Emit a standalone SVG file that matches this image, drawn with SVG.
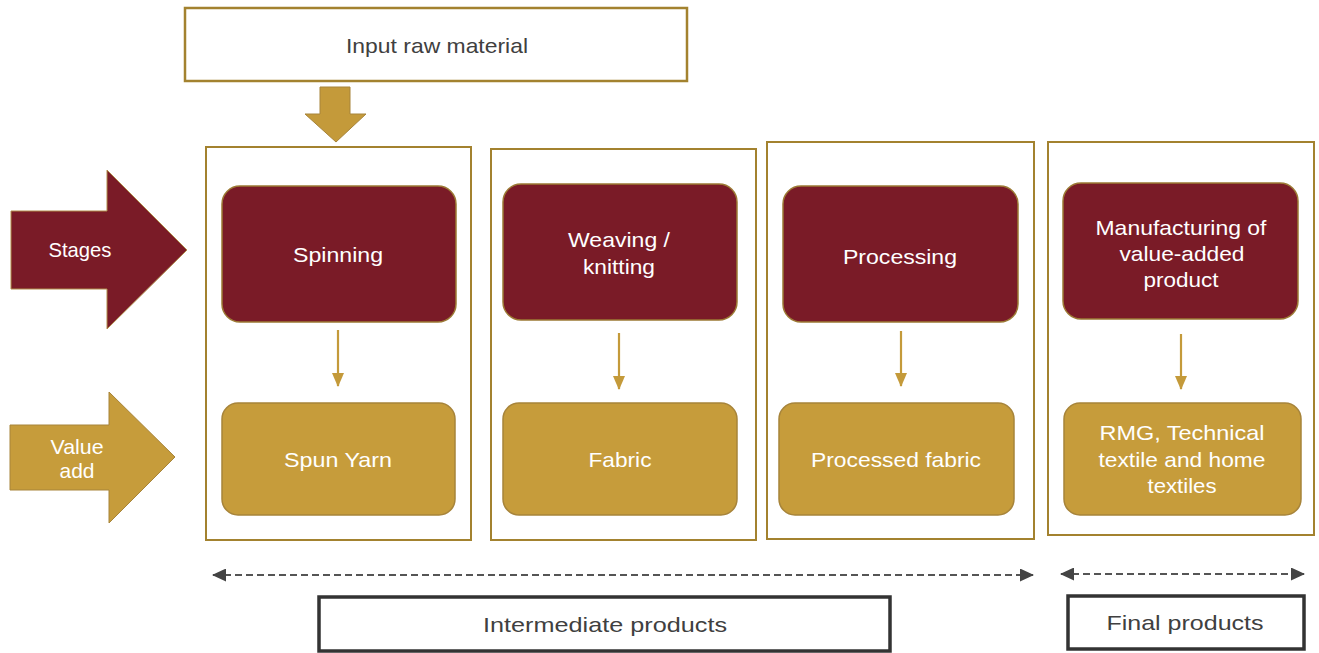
<svg xmlns="http://www.w3.org/2000/svg" width="1319" height="653" viewBox="0 0 1319 653">
<style>
  text { font-family: "Liberation Sans", Arial, sans-serif; text-anchor: middle; }
  .w { fill: #ffffff; font-size: 21px; }
  .d { fill: #404040; font-size: 21px; }
  .col { fill: none; stroke: #a3822f; stroke-width: 2; }
  .stage { fill: #7a1b27; stroke: #9c7a35; stroke-width: 1.5; }
  .val { fill: #c69c3b; stroke: #a7843a; stroke-width: 1.5; }
  .flow { stroke: #c49a3a; stroke-width: 2.2; fill: none; }
  .dash { stroke: #555555; stroke-width: 2; stroke-dasharray: 7 4; fill: none; }
  .lbl { fill: #ffffff; stroke: #333333; stroke-width: 3.5; }
</style>
<defs>
  <marker id="ga" viewBox="0 0 14 12" refX="13" refY="6" markerWidth="14" markerHeight="12" orient="auto" markerUnits="userSpaceOnUse">
    <path d="M0,0 L14,6 L0,12 Z" fill="#c49a3a"/>
  </marker>
  <marker id="da" viewBox="0 0 14 13" refX="13" refY="6.5" markerWidth="14" markerHeight="13" orient="auto-start-reverse" markerUnits="userSpaceOnUse">
    <path d="M0,0 L14,6.5 L0,13 Z" fill="#444444"/>
  </marker>
</defs>
<rect width="1319" height="653" fill="#ffffff"/>

<g id="input">
  <rect x="185" y="8" width="502" height="73" fill="#ffffff" stroke="#a3822f" stroke-width="2.5"/>
  <text class="d" x="437" y="53" textLength="182" lengthAdjust="spacingAndGlyphs">Input raw material</text>
</g>

<g id="input-arrow">
  <path d="M320,87 L350,87 L350,114 L366,114 L336,142 L305,114 L320,114 Z" fill="#c49a3a" stroke="#a7843a" stroke-width="1"/>
</g>

<g id="stages-arrow">
  <path d="M11,211 L107,211 L107,170 L187,250 L107,329 L107,289 L11,289 Z" fill="#7a1b27" stroke="#b08c4a" stroke-width="1"/>
  <text class="w" x="80" y="257" font-size="19" textLength="63" lengthAdjust="spacingAndGlyphs">Stages</text>
</g>

<g id="value-arrow">
  <path d="M10,425 L109,425 L109,392 L175,457 L109,523 L109,490 L10,490 Z" fill="#c69c3b" stroke="#a7843a" stroke-width="1"/>
  <text class="w" x="77" y="454" font-size="19" textLength="53" lengthAdjust="spacingAndGlyphs">Value</text>
  <text class="w" x="77" y="478" font-size="19" textLength="35" lengthAdjust="spacingAndGlyphs">add</text>
</g>

<g id="col-spinning">
  <rect class="col" x="206" y="147" width="265" height="393"/>
  <rect class="stage" x="222" y="186" width="234" height="136" rx="18"/>
  <text class="w" x="338" y="262" textLength="90" lengthAdjust="spacingAndGlyphs">Spinning</text>
  <rect class="val" x="222" y="403" width="233" height="112" rx="16"/>
  <text class="w" x="338" y="467" textLength="108" lengthAdjust="spacingAndGlyphs">Spun Yarn</text>
</g>

<g id="col-weaving">
  <rect class="col" x="491" y="149" width="265" height="391"/>
  <rect class="stage" x="503" y="184" width="234" height="136" rx="18"/>
  <text class="w" x="619" y="247" textLength="102" lengthAdjust="spacingAndGlyphs">Weaving /</text>
  <text class="w" x="619" y="274" textLength="72" lengthAdjust="spacingAndGlyphs">knitting</text>
  <rect class="val" x="503" y="403" width="234" height="112" rx="16"/>
  <text class="w" x="620" y="467" textLength="63" lengthAdjust="spacingAndGlyphs">Fabric</text>
</g>

<g id="col-processing">
  <rect class="col" x="767" y="142" width="267" height="397"/>
  <rect class="stage" x="783" y="186" width="235" height="136" rx="18"/>
  <text class="w" x="900" y="264" textLength="114" lengthAdjust="spacingAndGlyphs">Processing</text>
  <rect class="val" x="779" y="403" width="235" height="112" rx="16"/>
  <text class="w" x="896" y="467" textLength="170" lengthAdjust="spacingAndGlyphs">Processed fabric</text>
</g>

<g id="col-manufacturing">
  <rect class="col" x="1048" y="142" width="266" height="393"/>
  <rect class="stage" x="1063" y="183" width="235" height="136" rx="18"/>
  <text class="w" x="1181" y="235" textLength="171" lengthAdjust="spacingAndGlyphs">Manufacturing of</text>
  <text class="w" x="1182" y="261" textLength="125" lengthAdjust="spacingAndGlyphs">value-added</text>
  <text class="w" x="1181" y="287" textLength="75" lengthAdjust="spacingAndGlyphs">product</text>
  <rect class="val" x="1064" y="403" width="237" height="112" rx="16"/>
  <text class="w" x="1182" y="440" textLength="165" lengthAdjust="spacingAndGlyphs">RMG, Technical</text>
  <text class="w" x="1182" y="467" textLength="167" lengthAdjust="spacingAndGlyphs">textile and home</text>
  <text class="w" x="1182" y="493" textLength="69" lengthAdjust="spacingAndGlyphs">textiles</text>
</g>

<g id="intermediate-label">
  <rect class="lbl" x="319" y="597" width="571" height="54"/>
  <text class="d" x="605" y="632" font-size="22" textLength="244" lengthAdjust="spacingAndGlyphs">Intermediate products</text>
</g>

<g id="final-label">
  <rect class="lbl" x="1068" y="596" width="236" height="53"/>
  <text class="d" x="1185" y="630" font-size="22" textLength="157" lengthAdjust="spacingAndGlyphs">Final products</text>
</g>

<g id="connectors">
  <line class="flow" x1="338" y1="330" x2="338" y2="386" marker-end="url(#ga)"/>
  <line class="flow" x1="619" y1="333" x2="619" y2="389" marker-end="url(#ga)"/>
  <line class="flow" x1="901" y1="331" x2="901" y2="386" marker-end="url(#ga)"/>
  <line class="flow" x1="1181" y1="334" x2="1181" y2="389" marker-end="url(#ga)"/>
  <line class="dash" x1="213" y1="575" x2="1033" y2="575" marker-start="url(#da)" marker-end="url(#da)"/>
  <line class="dash" x1="1061" y1="574" x2="1304" y2="574" marker-start="url(#da)" marker-end="url(#da)"/>
</g>
</svg>
